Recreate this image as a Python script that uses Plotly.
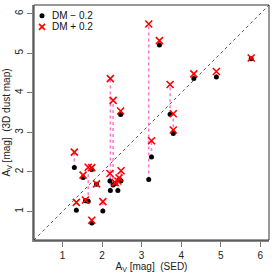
import plotly.graph_objects as go

# SED A_V for each object, and the 3D-dust-map A_V at DM-0.2 (black) and DM+0.2 (red)
av_sed = [1.30, 1.35, 1.52, 1.58, 1.65, 1.74, 1.74, 1.86, 2.02, 2.20, 2.21, 2.28, 2.33,
          2.40, 2.43, 2.48, 2.47, 3.18, 3.25, 3.45, 3.72, 3.80, 3.80, 4.32, 4.89, 5.77]
av_map_minus = [2.11, 1.03, 1.86, 1.27, 1.26, 2.06, 0.71, 1.69, 1.01, 1.77, 1.53, 1.67, 1.71,
                1.53, 1.80, 1.78, 3.45, 1.81, 2.38, 5.21, 3.46, 2.97, 3.00, 4.36, 4.40, 4.86]
av_map_plus = [2.50, 1.23, 1.92, 1.29, 2.12, 2.11, 0.78, 1.70, 1.25, 1.96, 4.36, 3.81, 1.73,
               1.77, 1.85, 2.03, 3.54, 5.74, 2.79, 5.32, 4.21, 3.47, 3.06, 4.48, 4.54, 4.88]
legend_labels = ["DM \u2212 0.2", "DM + 0.2"]
tick_vals = [1, 2, 3, 4, 5, 6]
axis_range = [0.28, 6.22]

# connecting segments built from the data
seg_x, seg_y = [], []
for x, lo, hi in zip(av_sed, av_map_minus, av_map_plus):
    seg_x += [x, x, None]
    seg_y += [lo, hi, None]

fig = go.Figure()
fig.add_trace(go.Scatter(x=axis_range, y=axis_range, mode="lines",
                         line=dict(color="#555555", width=1, dash="dot"),
                         showlegend=False, hoverinfo="skip"))
fig.add_trace(go.Scatter(x=seg_x, y=seg_y, mode="lines",
                         line=dict(color="#FF77CC", width=1.5, dash="dot"),
                         showlegend=False, hoverinfo="skip"))
fig.add_trace(go.Scatter(x=av_sed, y=av_map_minus, mode="markers", name=legend_labels[0],
                         showlegend=False,
                         marker=dict(color="black", size=5, symbol="circle")))
fig.add_trace(go.Scatter(x=av_sed, y=av_map_plus, mode="markers", name=legend_labels[1],
                         showlegend=False,
                         marker=dict(color="red", size=7, symbol="x-thin-open",
                                     line=dict(color="red", width=1.6))))

axis_common = dict(range=axis_range, tickvals=tick_vals, ticks="outside", ticklen=5,
                   tickcolor="#777777", tickwidth=1, showgrid=False, zeroline=False,
                   showline=True, linecolor="#888888", linewidth=2,
                   tickfont=dict(size=10, color="#222222"))
fig.update_xaxes(**axis_common,
                 title=dict(text="A<sub>V</sub> [mag]  (SED)", font=dict(size=10, color="#222222"),
                            standoff=2))
fig.update_yaxes(**axis_common, tickangle=-90,
                 title=dict(text="A<sub>V</sub> [mag]  (3D dust map)", font=dict(size=10, color="#222222"),
                            standoff=2))
fig.add_shape(type="rect", xref="paper", yref="paper", x0=0, y0=0, x1=1, y1=1,
              line=dict(color="#333333", width=1))

# manual legend (key symbols + labels)
key_x, key_y = 0.034, [0.954, 0.907]
fig.add_shape(type="circle", xref="paper", yref="paper", xsizemode="pixel", ysizemode="pixel",
              xanchor=key_x, yanchor=key_y[0], x0=-2.5, x1=2.5, y0=-2.5, y1=2.5,
              fillcolor="black", line=dict(color="black", width=0))
for sgn in (1, -1):
    fig.add_shape(type="line", xref="paper", yref="paper", xsizemode="pixel", ysizemode="pixel",
                  xanchor=key_x, yanchor=key_y[1], x0=-3, x1=3, y0=-3 * sgn, y1=3 * sgn,
                  line=dict(color="red", width=1.6))
for lab, ky in zip(legend_labels, key_y):
    fig.add_annotation(text=lab, xref="paper", yref="paper", x=0.066, y=ky,
                       xanchor="left", yanchor="middle", showarrow=False,
                       font=dict(size=10, color="#111111"))

fig.update_layout(width=275, height=275, margin=dict(l=33, r=6, t=5, b=33),
                  paper_bgcolor="white", plot_bgcolor="white", showlegend=False,
                  font=dict(family="Liberation Sans, Arial, sans-serif", size=10, color="#222222"))
fig.write_html("out.html", config={"displayModeBar": False},
               post_script="document.body.style.margin='0';document.body.style.overflow='hidden';")
